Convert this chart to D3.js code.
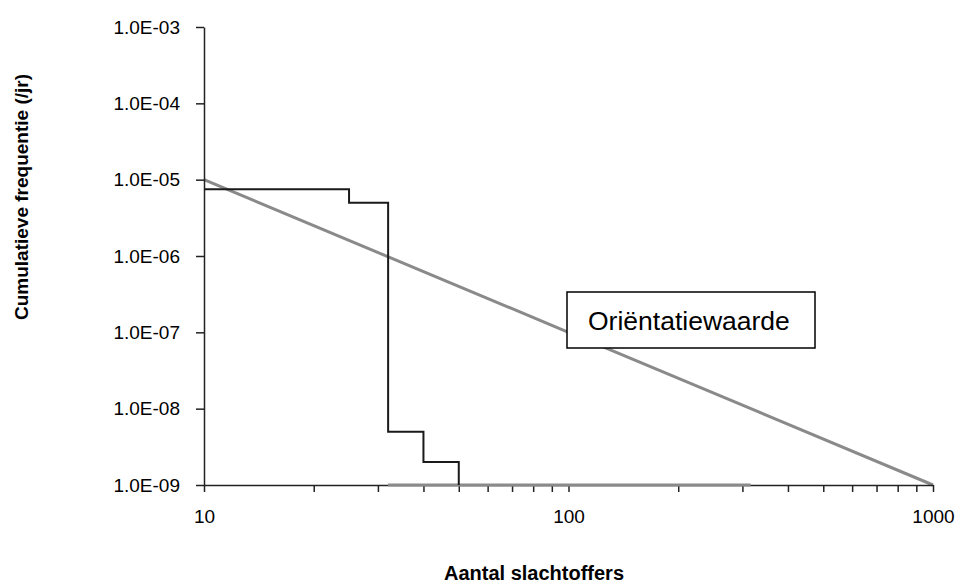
<!DOCTYPE html>
<html>
<head>
<meta charset="utf-8">
<script src="https://cdn.jsdelivr.net/npm/d3@7"></script>
<style>
	body { margin: 0; background: #fff; }
	svg { display: block; font-family: Arial, "Liberation Sans", sans-serif; }
	.axis path, .axis line { stroke: #222; stroke-width: 1.5; }
	.axis text { fill: #000; }
</style>
</head>
<body>
<div id="chart"></div>
<script>

// data

// FN curve (step): number of victims and cumulative frequency per year
const fnVictims = [10, 25, 32, 40, 50];
const fnFreq = [7.5e-6, 5e-6, 5e-9, 2e-9, 1e-9];

// grey trace lying on the lower edge of the plot
const baseVictims = [32, 316];
const baseFreq = [1e-9, 1e-9];

// orientation value line
const orientVictims = [10, 100, 1000];
const orientFreq = [1e-5, 1e-7, 1e-9];

const yTicks = [1e-9, 1e-8, 1e-7, 1e-6, 1e-5, 1e-4, 1e-3];
const xMajor = [10, 100, 1000];
const xMinor = [20, 30, 40, 50, 60, 70, 80, 90, 200, 300, 400, 500, 600, 700, 800, 900];

const svgWidth = 955, svgHeight = 583;
const margin = {top: 27, right: 22, bottom: 98, left: 204};

const svg = d3.select("#chart").append("svg")
	.attr("width", svgWidth)
	.attr("height", svgHeight);

const x = d3.scaleLog()
	.domain([10, 1000])
	.range([margin.left, svgWidth - margin.right]);

const y = d3.scaleLog()
	.domain([1e-9, 1e-3])
	.range([svgHeight - margin.bottom, margin.top]);

const fmtE = v => {
	const e = Math.round(Math.log10(v));
	const s = String(Math.abs(e)).padStart(2, "0");
	return "1.0E" + (e < 0 ? "-" : "+") + s;
};

const line = d3.line()
	.x(d => x(d[0]))
	.y(d => y(d[1]));

// orientation line
svg.append("path")
	.datum(orientVictims.map((v, i) => [v, orientFreq[i]]))
	.attr("fill", "none")
	.attr("stroke", "#8a8a8a")
	.attr("stroke-width", 3)
	.attr("d", line);

// axes
const yAxis = d3.axisLeft(y)
	.tickValues(yTicks)
	.tickFormat(fmtE)
	.tickSizeInner(8)
	.tickSizeOuter(0)
	.tickPadding(16);

svg.append("g")
	.attr("class", "axis axis--y")
	.attr("transform", "translate(" + margin.left + ",0)")
	.call(yAxis)
	.selectAll("text")
	.style("font-size", "19px");

const xAxis = d3.axisBottom(x)
	.tickValues([...xMajor, ...xMinor])
	.tickFormat(d => xMajor.includes(d) ? String(d) : "")
	.tickSizeInner(7)
	.tickSizeOuter(0)
	.tickPadding(18);

svg.append("g")
	.attr("class", "axis axis--x")
	.attr("transform", "translate(0," + (svgHeight - margin.bottom) + ")")
	.call(xAxis)
	.selectAll("text")
	.style("font-size", "19px");

// grey trace on the bottom edge
svg.append("path")
	.datum(baseVictims.map((v, i) => [v, baseFreq[i]]))
	.attr("fill", "none")
	.attr("stroke", "#8a8a8a")
	.attr("stroke-width", 3)
	.attr("d", line);

// FN step curve
svg.append("path")
	.datum(fnVictims.map((v, i) => [v, fnFreq[i]]))
	.attr("fill", "none")
	.attr("stroke", "#1a1a1a")
	.attr("stroke-width", 2)
	.attr("d", line.curve(d3.curveStepAfter));

// annotation box
const note = svg.append("g")
	.attr("transform", "translate(567,292)");

note.append("rect")
	.attr("width", 248)
	.attr("height", 56)
	.attr("fill", "#fff")
	.attr("stroke", "#000")
	.attr("stroke-width", 1.5);

note.append("text")
	.attr("x", 21)
	.attr("y", 38)
	.style("font-size", "26.5px")
	.text("Oriëntatiewaarde");

// axis titles
svg.append("text")
	.attr("x", 534)
	.attr("y", 580)
	.attr("text-anchor", "middle")
	.style("font-size", "20px")
	.style("font-weight", "bold")
	.text("Aantal slachtoffers");

svg.append("text")
	.attr("transform", "translate(28,197) rotate(-90)")
	.attr("text-anchor", "middle")
	.style("font-size", "19px")
	.style("font-weight", "bold")
	.text("Cumulatieve frequentie (/jr)");

</script>
</body>
</html>
